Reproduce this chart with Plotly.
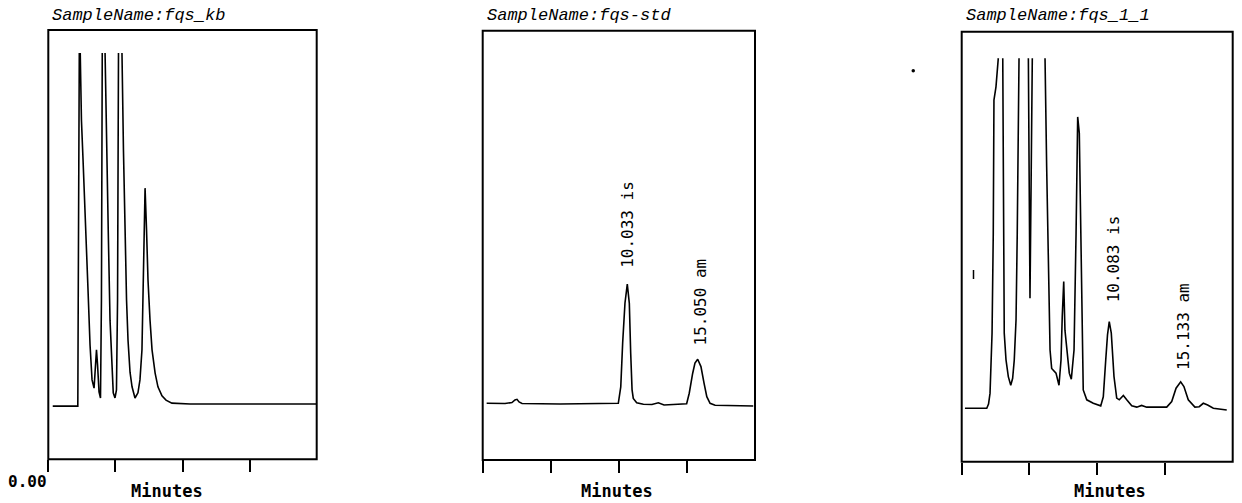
import plotly.graph_objects as go

# ---------------- data ----------------
# Panel 1: SampleName:fqs_kb  (time in minutes, detector signal, baseline ~0)
kb_time = [0.33, 2.20, 2.23, 2.26, 2.29, 2.32, 2.38, 2.47, 2.59, 2.70, 2.81, 2.96, 3.11, 3.26,
           3.41, 3.52, 3.59, 3.67, 3.78, 3.89, 3.96, 4.02, 4.11, 4.23, 4.37, 4.47, 4.60, 4.72,
           4.84, 4.97, 5.08, 5.16, 5.23, 5.34, 5.49, 5.60, 5.72, 5.83, 5.94, 6.09, 6.24, 6.46,
           6.68, 6.83, 6.98, 7.09, 7.21, 7.32, 7.43, 7.58, 7.73, 7.96, 8.17, 8.47, 8.77, 9.21,
           10.56, 19.98]
kb_signal = [-0.5, -0.5, 24.2, 59.1, 81.6, 89.3, 81.6, 66.0, 56.7, 48.6, 39.8, 26.5, 13.7, 5.6,
             3.7, 10.2, 12.6, 9.1, 2.8, 1.4, 24.2, 81.6, 94.0, 81.6, 52.1, 39.8, 19.5, 8.6,
             2.6, 1.4, 3.3, 24.2, 81.6, 94.0, 81.6, 59.1, 38.1, 24.2, 14.9, 7.4, 4.0, 1.4,
             2.6, 5.6, 12.6, 30.5, 50.2, 40.5, 28.8, 19.5, 12.6, 7.2, 4.0, 1.9, 0.9, 0.2,
             0.0, 0.0]

# Panel 2: SampleName:fqs-std
std_time = [0.29, 1.64, 2.15, 2.37, 2.52, 2.67, 2.89, 5.68, 9.96, 10.14, 10.28, 10.45, 10.62,
            10.77, 10.87, 10.97, 11.06, 11.31, 11.80, 12.43, 12.90, 13.32, 14.98, 15.17, 15.42,
            15.59, 15.79, 16.03, 16.26, 16.46, 16.70, 17.07, 19.87]
std_signal = [0.16, 0.12, 0.35, 0.93, 1.09, 0.47, 0.12, 0.0, 0.16, 4.0, 14.2, 23.5, 27.9,
              23.4, 11.8, 3.3, 1.3, 0.3, -0.07, -0.1, 0.3, -0.23, 0.05, 2.5, 7.1,
              9.5, 10.4, 8.7, 4.8, 1.7, 0.16, -0.3, -0.47]

# Panel 3: SampleName:fqs_1_1
s11_time = [0.24, 1.85, 1.98, 2.09, 2.24, 2.33, 2.38, 2.53, 2.70, 2.86, 3.03, 3.07, 3.14, 3.27,
            3.44, 3.62, 3.76, 3.88, 4.01, 4.10, 4.23, 4.55, 4.92, 4.99, 5.04, 5.11, 5.21, 5.65,
            6.15, 6.27, 6.39, 6.52, 6.64, 6.96, 7.18, 7.33, 7.42, 7.53, 7.62, 7.75, 7.94, 8.09,
            8.29, 8.44, 8.56, 8.68, 8.78, 8.88, 8.97, 9.23, 9.71, 10.26, 10.45, 10.63, 10.76,
            10.89, 11.04, 11.24, 11.44, 11.63, 11.93, 12.18, 12.55, 12.92, 13.28, 13.65, 15.13,
            15.50, 15.82, 16.16, 16.40, 16.72, 17.21, 17.53, 17.83, 18.15, 18.57, 19.56]
s11_signal = [-0.07, -0.07, 0.9, 3.4, 17.4, 40.6, 71.6, 74.7, 81.3, 90.2, 81.3, 40.7, 17.4, 11.2,
              7.3, 5.3, 6.9, 11.2, 20.5, 40.6, 81.3, 90.2, 81.3, 48.4, 25.5, 48.4, 81.3, 90.2,
              81.3, 56.1, 32.9, 13.5, 9.2, 8.1, 5.3, 11.2, 21.2, 29.4, 18.1, 13.5, 8.1, 6.7,
              13.5, 40.6, 67.7, 63.9, 40.6, 17.4, 4.2, 1.9, 1.1, 0.5, 2.6, 11.2, 17.0,
              20.1, 17.4, 7.3, 2.3, 1.9, 2.9, 1.9, 0.5, 0.2, 0.6, 0.2, 0.2,
              1.5, 4.6, 6.1, 5.0, 1.9, 0.2, 0.3, 1.1, 0.7, -0.07, -0.47]

sample_names = ["fqs_kb", "fqs-std", "fqs_1_1"]
tick_values = [0, 5, 10, 15]

# peak labels (text, apex time, apex signal)
std_labels = ["10.033 is", "15.050 am"]
std_label_t = [10.62, 15.79]
std_label_y = [27.9, 10.4]
s11_labels = ["10.083 is", "15.133 am"]
s11_label_t = [10.89, 16.16]
s11_label_y = [20.1, 6.1]

# ---------------- layout helpers (pixels -> paper) ----------------
W, H = 1242, 503


def px(x):
    return x / W


def py(y):
    return (H - y) / H


frames = [  # left, right, top, bottom of frame box (pixels)
    (48.3, 316.7, 30.0, 459.3),
    (482.7, 755.0, 30.7, 460.0),
    (961.7, 1232.7, 31.7, 461.7),
]
clip_top = [53.0, 55.0, 58.3]
y_ranges = [[-12.86, 81.63], [-13.02, 81.16], [-12.49, 81.33]]

fig = go.Figure()
series = [(kb_time, kb_signal), (std_time, std_signal), (s11_time, s11_signal)]
for i, (t, s) in enumerate(series):
    sfx = "" if i == 0 else str(i + 1)
    fig.add_trace(go.Scatter(x=t, y=s, mode="lines", xaxis="x" + sfx, yaxis="y" + sfx,
                             line=dict(color="black", width=1.6), hoverinfo="skip"))

layout = dict(width=W, height=H, margin=dict(l=0, r=0, t=0, b=0),
              paper_bgcolor="white", plot_bgcolor="white", showlegend=False)
shapes = []
annotations = []
mono = "DejaVu Sans Mono"
for i, (l, r, t, b) in enumerate(frames):
    sfx = "" if i == 0 else str(i + 1)
    layout["xaxis" + sfx] = dict(domain=[px(l), px(r)], range=[0, 20], anchor="y" + sfx,
                                 showgrid=False, zeroline=False, showline=False,
                                 ticks="outside", ticklen=12, tickwidth=2, tickcolor="black",
                                 tickvals=tick_values, showticklabels=False, fixedrange=True)
    layout["yaxis" + sfx] = dict(domain=[py(b), py(clip_top[i])], range=y_ranges[i],
                                 anchor="x" + sfx, visible=False, fixedrange=True)
    shapes.append(dict(type="rect", xref="paper", yref="paper", x0=px(l), x1=px(r),
                       y0=py(b), y1=py(t), line=dict(color="black", width=2)))
    annotations.append(dict(text="<i>SampleName:" + sample_names[i] + "</i>",
                            xref="paper", yref="paper", x=px(l + 2), y=py(15),
                            xanchor="left", yanchor="middle", showarrow=False,
                            font=dict(family="Liberation Mono", size=17, color="black")))

minutes_x = [167.5, 616.7, 1110.0]
for mx in minutes_x:
    annotations.append(dict(text="<b>Minutes</b>", xref="paper", yref="paper", x=px(mx), y=py(491),
                            xanchor="center", yanchor="middle", showarrow=False,
                            font=dict(family=mono, size=17, color="black")))
annotations.append(dict(text="<b>0.00</b>", xref="paper", yref="paper", x=px(48.5), y=py(481),
                        xanchor="right", yanchor="middle", showarrow=False,
                        font=dict(family=mono, size=16, color="black")))

label_sets = [("2", std_labels, std_label_t, std_label_y, [14, 12], [0, 3]),
              ("3", s11_labels, s11_label_t, s11_label_y, [17, 10], [4, 3])]
for sfx, texts, ts, ys, gaps, xs in label_sets:
    for txt, tt, yy, g, xsft in zip(texts, ts, ys, gaps, xs):
        annotations.append(dict(text=txt, xref="x" + sfx, yref="y" + sfx, x=tt, y=yy,
                                xanchor="center", yanchor="bottom", yshift=g, xshift=xsft,
                                textangle=-90, showarrow=False,
                                font=dict(family=mono, size=16, color="black")))

# small scan specks in the source image
shapes.append(dict(type="circle", xref="paper", yref="paper", x0=px(911.5), x1=px(915),
                   y0=py(72.5), y1=py(69), fillcolor="black", line=dict(width=0)))
shapes.append(dict(type="line", xref="paper", yref="paper", x0=px(973.5), x1=px(973.5),
                   y0=py(270), y1=py(279), line=dict(color="black", width=1.5)))

layout["shapes"] = shapes
layout["annotations"] = annotations
fig.update_layout(**layout)
fig.write_html("out.html", config={"displayModeBar": False, "staticPlot": True},
               post_script="document.body.style.margin='0px';document.body.style.overflow='hidden';")
